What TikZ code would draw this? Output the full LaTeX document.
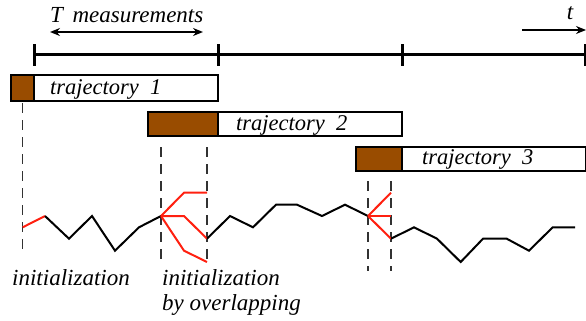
\documentclass[tikz,border=0pt]{standalone}
\usepackage{fontspec}
\setmainfont{Liberation Serif}
\usetikzlibrary{arrows.meta}
\definecolor{brownfill}{RGB}{153,76,0}
\definecolor{redline}{RGB}{255,32,16}
\definecolor{dashgray}{RGB}{50,50,50}
\begin{document}
\begin{tikzpicture}[x=1pt,y=-1pt,
  axisline/.style={line width=3pt},
  brownbox/.style={draw=black,line width=1.5pt,fill=brownfill},
  whitebox/.style={draw=black,line width=1.5pt,fill=white},
  lbl/.style={font=\fontsize{23}{27}\selectfont\itshape,inner sep=0pt},
  trajlbl/.style={font=\fontsize{22.5}{24}\selectfont\itshape,inner sep=0pt,anchor=west},
  dashline/.style={draw=dashgray,line width=1.3pt,dash pattern=on 10pt off 7pt},
  zig/.style={line width=2pt,line join=miter},
  redzig/.style={zig,draw=redline}]
\useasboundingbox (0,0) rectangle (586,321);
% time axis
\coordinate (a0) at (34,55);
\coordinate (a1) at (218,55);
\coordinate (a2) at (402,55);
\coordinate (a3) at (585,55);
\draw[axisline] (a0) -- (a3);
\foreach \p in {a0,a1,a2,a3} \draw[axisline] ([yshift=-11pt]\p) -- ([yshift=11pt]\p);
% T measurements
\coordinate (tm1) at (50,32);
\coordinate (tm2) at (203,32);
\draw[line width=1.5pt,{Stealth[length=10pt,width=8pt]}-{Stealth[length=10pt,width=8pt]}] (tm1) -- (tm2);
\node[lbl,anchor=west] (tmeas) at (50,15) {T\, measurements};
% t arrow
\coordinate (ta1) at (522,30);
\coordinate (ta2) at (586,30);
\draw[line width=1.5pt,-{Stealth[length=10pt,width=8pt]}] (ta1) -- (ta2);
\node[lbl] (tlab) at (570,13) {t};
% trajectory boxes
\draw[whitebox] (34,75) rectangle (218,101);
\draw[brownbox] (11,75) rectangle (34,101);
\node[trajlbl] (tr1) at (50,89) {trajectory\ \ 1};
\draw[whitebox] (218,112) rectangle (402,136);
\draw[brownbox] (148,112) rectangle (218,136);
\node[trajlbl] (tr2) at (236,125) {trajectory\ \ 2};
\draw[whitebox] (402,147) rectangle (586,171);
\draw[brownbox] (356,147) rectangle (402,171);
\node[trajlbl] (tr3) at (422,159) {trajectory\ \ 3};
% dashed lines
\draw[dashline] (22.7,103) -- (22.7,255);
\draw[dashline] (161,147) -- (161,262);
\draw[dashline] (207,147) -- (207,262);
\draw[dashline] (368,181) -- (368,271);
\draw[dashline] (391,181) -- (391,271);
% zigzag
\draw[redzig] (22.7,227.3) -- (45,216);
\draw[zig] (45,216) -- (69,238.7) -- (92,216) -- (115,250.7) -- (139,227.3) -- (161,216);
\draw[redzig] (161,216) -- (184,192.7) -- (207,192.7);
\draw[redzig] (161,216) -- (184,216) -- (207,238.7);
\draw[redzig] (161,216) -- (184,250.7) -- (207,262);
\draw[zig] (207,238.7) -- (230,216) -- (253,227.3) -- (276,204.7) -- (297,204.7) -- (322,216) -- (345,204.7) -- (368,216);
\draw[redzig] (368,216) -- (391,192.7);
\draw[redzig] (368,216) -- (391,216);
\draw[redzig] (368,216) -- (391,238.7);
\draw[zig] (391,238.7) -- (414,227.3) -- (437,238.7) -- (460.7,262) -- (483,238.7) -- (506.7,238.7) -- (529,250.7) -- (552.7,227.3) -- (575,227.3);
% labels
\node[lbl,anchor=west] (init1) at (12,278) {initialization};
\node[lbl,anchor=west] (init2) at (162,278) {initialization};
\node[lbl,anchor=west] (overl) at (162,305) {by overlapping};
\end{tikzpicture}
\end{document}
